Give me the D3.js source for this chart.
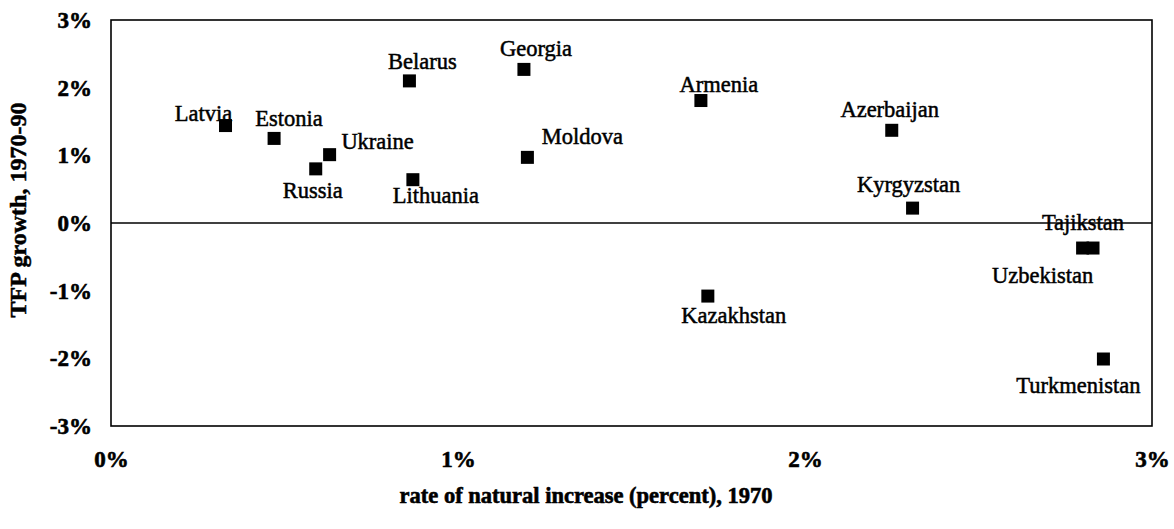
<!DOCTYPE html>
<html>
<head>
<meta charset="utf-8">
<script src="https://cdn.jsdelivr.net/npm/d3@7"></script>
<style>
  html, body { margin: 0; padding: 0; background: #fff; }
  svg { display: block; }
  text { font-family: "Liberation Serif", "Times New Roman", serif; fill: #000; }
</style>
</head>
<body>
<svg id="chart" width="1174" height="529"></svg>
<script>
// ---- data ----
const countries = ["Latvia", "Estonia", "Russia", "Ukraine", "Belarus", "Lithuania", "Georgia", "Moldova",
  "Armenia", "Kazakhstan", "Azerbaijan", "Kyrgyzstan", "Tajikstan", "Uzbekistan", "Turkmenistan"];
const naturalIncrease = [0.33, 0.47, 0.59, 0.63, 0.86, 0.87, 1.19, 1.20,
  1.70, 1.72, 2.25, 2.31, 2.83, 2.80, 2.86];
const tfpGrowth = [1.44, 1.25, 0.80, 1.01, 2.10, 0.64, 2.27, 0.97,
  1.81, -1.08, 1.37, 0.22, -0.37, -0.37, -2.01];
const xTicks = [0, 1, 2, 3];
const yTicks = [-3, -2, -1, 0, 1, 2, 3];
const xTitle = "rate of natural increase (percent), 1970";
const yTitle = "TFP growth, 1970-90";

// ---- label placement (layout only) ----
const labelDx = [-22, 15, -3, 48, 13, 23, 12, 55, 18, 26, -2, -4, -10, -40, -25];
const labelDy = [-5, -12, 29, -6, -12, 23, -13, -13, -9, 27, -13, -16, -18, 35, 34];

// ---- layout ----
const svg = d3.select("#chart");
const m = { left: 111, right: 1152, top: 20, bottom: 426 };
const x = d3.scaleLinear().domain([0, 3]).range([m.left, m.right]);
const y = d3.scaleLinear().domain([-3, 3]).range([m.bottom, m.top]);

// plot frame
svg.append("rect")
  .attr("x", m.left).attr("y", m.top)
  .attr("width", m.right - m.left).attr("height", m.bottom - m.top)
  .attr("fill", "none").attr("stroke", "#000").attr("stroke-width", 1.6);

// zero line
svg.append("line")
  .attr("x1", m.left).attr("x2", m.right)
  .attr("y1", y(0)).attr("y2", y(0))
  .attr("stroke", "#000").attr("stroke-width", 1.3);

// axes
const yAxis = svg.append("g")
  .attr("transform", `translate(${m.left},0)`)
  .call(d3.axisLeft(y).tickValues(yTicks).tickFormat(d => d + "%").tickSize(0).tickPadding(19));
const xAxis = svg.append("g")
  .attr("transform", `translate(0,${m.bottom})`)
  .call(d3.axisBottom(x).tickValues(xTicks).tickFormat(d => d + "%").tickSize(0).tickPadding(25));
[yAxis, xAxis].forEach(g => {
  g.select(".domain").remove();
  g.selectAll("text")
    .style("font-family", '"Liberation Serif", serif')
    .style("font-size", "23px")
    .style("font-weight", "bold")
    .style("stroke", "#000").style("stroke-width", 0.6)
    .attr("fill", "#000");
});

// axis titles
svg.append("text")
  .attr("x", 586).attr("y", 503)
  .attr("text-anchor", "middle")
  .style("font-size", "22.5px").style("font-weight", "bold")
  .style("stroke", "#000").style("stroke-width", 0.6)
  .text(xTitle);
svg.append("text")
  .attr("transform", `translate(26,210) rotate(-90)`)
  .attr("text-anchor", "middle")
  .style("font-size", "24px").style("font-weight", "bold")
  .style("stroke", "#000").style("stroke-width", 0.5)
  .text(yTitle);

// markers
const pts = countries.map((c, i) => ({ c, xv: naturalIncrease[i], yv: tfpGrowth[i], dx: labelDx[i], dy: labelDy[i] }));
const ms = 13;
svg.append("g").selectAll("rect").data(pts).join("rect")
  .attr("x", d => x(d.xv) - ms / 2)
  .attr("y", d => y(d.yv) - ms / 2)
  .attr("width", ms).attr("height", ms)
  .attr("fill", "#000");

// labels
svg.append("g").selectAll("text").data(pts).join("text")
  .attr("x", d => x(d.xv) + d.dx)
  .attr("y", d => y(d.yv) + d.dy)
  .attr("text-anchor", "middle")
  .style("font-size", "22.5px")
  .style("stroke", "#000").style("stroke-width", 0.5)
  .text(d => d.c);
</script>
</body>
</html>
